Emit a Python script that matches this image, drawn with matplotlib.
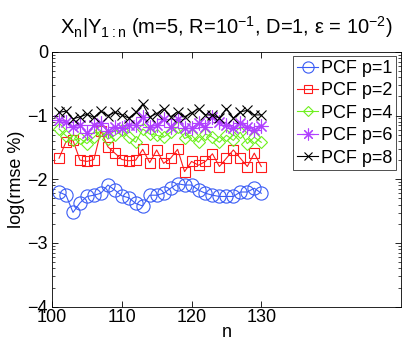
import numpy as np
import matplotlib.pyplot as plt

plt.rcParams['font.family'] = ['Liberation Sans', 'DejaVu Sans']
plt.rcParams['mathtext.fontset'] = 'custom'
plt.rcParams['mathtext.rm'] = 'Liberation Sans'
plt.rcParams['mathtext.it'] = 'Liberation Sans'

n = list(range(101, 131))

p1 = [-2.20, -2.25, -2.52, -2.37, -2.27, -2.25, -2.22, -2.09, -2.17, -2.26,
      -2.29, -2.38, -2.42, -2.25, -2.25, -2.22, -2.14, -2.07, -2.09, -2.09,
      -2.17, -2.22, -2.25, -2.27, -2.27, -2.27, -2.20, -2.20, -2.14, -2.22]
p2 = [-1.67, -1.41, -1.39, -1.70, -1.72, -1.69, -1.24, -1.49, -1.59, -1.69,
      -1.71, -1.70, -1.53, -1.74, -1.54, -1.75, -1.67, -1.53, -1.88, -1.72,
      -1.78, -1.72, -1.60, -1.80, -1.67, -1.54, -1.67, -1.80, -1.59, -1.80]
p4 = [-1.21, -1.32, -1.39, -1.36, -1.44, -1.34, -1.23, -1.37, -1.31, -1.23,
      -1.34, -1.42, -1.21, -1.29, -1.31, -1.34, -1.26, -1.18, -1.36, -1.31,
      -1.42, -1.29, -1.34, -1.42, -1.31, -1.39, -1.26, -1.44, -1.34, -1.42]
p6 = [-1.07, -1.10, -1.18, -1.15, -1.28, -1.15, -1.12, -1.25, -1.18, -1.20,
      -1.15, -1.15, -1.02, -1.18, -1.15, -1.05, -1.18, -1.05, -1.20, -1.20,
      -1.12, -1.18, -1.02, -1.10, -1.15, -1.20, -1.12, -1.18, -1.23, -1.17]
p8 = [-0.95, -0.93, -1.05, -1.02, -0.98, -1.03, -0.93, -1.00, -0.95, -0.99,
      -1.04, -0.95, -0.82, -1.02, -0.97, -0.89, -1.02, -0.94, -1.02, -0.96,
      -0.89, -0.99, -0.99, -1.04, -0.89, -1.04, -0.94, -0.92, -0.99, -0.99]

labels = ['PCF p=1', 'PCF p=2', 'PCF p=4', 'PCF p=6', 'PCF p=8']
xtick_vals = [100, 110, 120, 130]
ytick_vals = [-4, -3, -2, -1, 0]

fig = plt.figure(figsize=(4.07, 3.41), dpi=100)
ax = fig.add_axes([0.128, 0.1006, 0.8565, 0.7474])

kw = dict(mfc='none', lw=0.8, mew=0.8)
ax.plot(n, p1, color='#3a5cf5', marker='o', ms=9.5, label=labels[0], **kw)
ax.plot(n, p2, color='#ff1a1a', marker='s', ms=7, label=labels[1], **kw)
ax.plot(n, p4, color='#6ef01e', marker='D', ms=6.5, label=labels[2], **kw)
ax.plot(n, p6, color='#b040ff', marker=(8, 2, 0), ms=10, label=labels[3], **kw)
ax.plot(n, p8, color='black', marker='x', ms=7.5, label=labels[4], **kw)

ax.set_xlim(100, 150)
ax.set_ylim(-4, 0)
ax.set_xticks(xtick_vals)
ax.set_yticks(ytick_vals)
ax.set_yticklabels([str(v).replace('-', '\u2212') for v in ytick_vals])
minors = [d + np.log10(k) for d in range(-4, 0) for k in range(2, 10)]
ax.set_yticks(minors, minor=True)
ax.tick_params(direction='in', top=True, right=True, length=4, width=0.6, labelsize=13, pad=2)
ax.tick_params(axis='y', pad=3)
ax.tick_params(which='minor', direction='in', right=True, length=2, width=0.5)
for s in ax.spines.values():
    s.set_linewidth(0.6)

ax.set_xlabel('n', fontsize=13, labelpad=-1.5)
ax.set_ylabel('log(rmse %)', fontsize=13, labelpad=2)
ax.set_title(r'X$_\mathregular{n}$|Y$_\mathregular{1:n}$ (m=5, R=10$^\mathregular{-1}$, D=1, $\epsilon$ = 10$^\mathregular{-2}$)',
             fontsize=14.5, pad=13)

leg = ax.legend(loc='upper right', fontsize=13, frameon=True, fancybox=False,
                edgecolor='black', handlelength=1.2, handletextpad=0.15,
                borderpad=0.2, labelspacing=0.3, borderaxespad=0.25, markerscale=0.85)
leg.get_frame().set_linewidth(0.6)

fig.savefig('out.png', dpi=100)
